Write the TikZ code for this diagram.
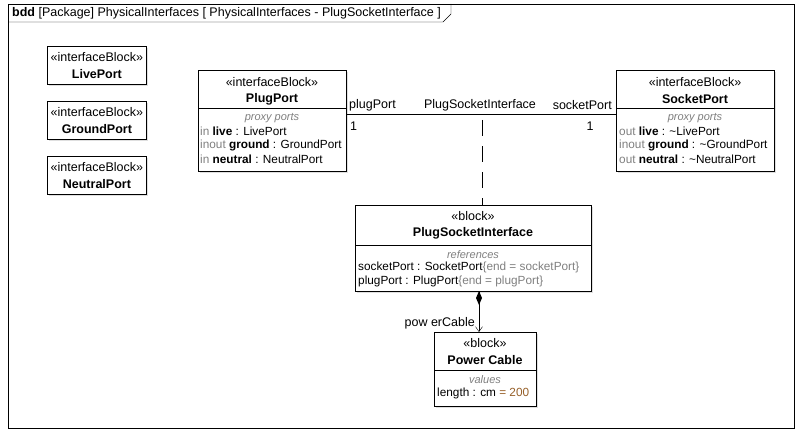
\documentclass[tikz,border=0pt]{standalone}
\usepackage{fontspec}
\setmainfont{Liberation Sans}
\usetikzlibrary{positioning,calc,arrows.meta,shadows}
\definecolor{kwgray}{RGB}{128,128,128}
\definecolor{valbrown}{RGB}{150,95,40}
\tikzset{
  blk/.style = {draw=black, fill=white, thick, inner sep=0pt,
    drop shadow={shadow xshift=2pt, shadow yshift=-2pt, fill=black!25}},
  txt/.style = {inner sep=0pt, font=\fontsize{12.5}{14}\selectfont},
  lbl/.style = {txt, anchor=west},
  row/.style = {lbl, font=\fontsize{11.8}{14}\selectfont},
  comp/.style = {txt, kwgray, font=\fontsize{11}{13}\selectfont\itshape},
  kw/.style = {kwgray}
}
\newcommand{\boxat}[5]{% name, x1, y1, x2, y2
  \node[blk, anchor=north west, minimum width=#4-#2, minimum height=#5-#3]
    (#1) at (#2,#3) {};}
\begin{document}
\begin{tikzpicture}[x=1pt,y=-1pt]
\useasboundingbox (0,0) rectangle (800,433);
% frame
\draw[thin] (8,4) rectangle (794,428);
\draw[thin] (8,22) -- (443,22) -- (451,14) -- (451,4);
\node[lbl] (title) at (12,13) {\textbf{bdd} [Package] PhysicalInterfaces [ PhysicalInterfaces - PlugSocketInterface ]};

% small interface blocks
\foreach \n/\y in {LivePort/46, GroundPort/101, NeutralPort/156} {
  \boxat{b\n}{47}{\y}{146}{\y+38}
  \node[txt] at ($(b\n.north)+(0,11)$) {«interfaceBlock»};
  \node[txt] at ($(b\n.north)+(0,28)$) {\textbf{\n}};
}

% PlugPort
\boxat{plug}{198}{70}{346}{171}
\draw[thick] (198,108) -- (346,108);
\node[txt] at (272,82) {«interfaceBlock»};
\node[txt] at (272,99) {\textbf{PlugPort}};
\node[comp] at (272,118) {proxy ports};
\node[row] at (200,131) {\textcolor{kwgray}{in} \textbf{live} : LivePort};
\node[row] at (200,145) {\textcolor{kwgray}{inout} \textbf{ground} : GroundPort};
\node[row] at (200,159) {\textcolor{kwgray}{in} \textbf{neutral} : NeutralPort};

% SocketPort
\boxat{socket}{616}{70}{774}{171}
\draw[thick] (616,108) -- (774,108);
\node[txt] at (695,82) {«interfaceBlock»};
\node[txt] at (695,99) {\textbf{SocketPort}};
\node[comp] at (695,118) {proxy ports};
\node[row] at (619,131) {\textcolor{kwgray}{out} \textbf{live} : \textasciitilde LivePort};
\node[row] at (619,145) {\textcolor{kwgray}{inout} \textbf{ground} : \textasciitilde GroundPort};
\node[row] at (619,159) {\textcolor{kwgray}{out} \textbf{neutral} : \textasciitilde NeutralPort};

% connector
\coordinate (cA) at (346,114);
\coordinate (cB) at (616,114);
\coordinate (cM) at (482,114);
\draw (cA) -- (cB);
\node[lbl] at (349,105) {plugPort};
\node[lbl] at (350,126) {1};
\node[txt] at (480,105) {PlugSocketInterface};
\node[txt, anchor=east] at (612,105) {socketPort};
\node[txt] at (590,126) {1};

% association block
\boxat{psi}{355}{205}{591}{291}
\draw[thick] (355,245) -- (591,245);
\draw[dash pattern=on 16pt off 10pt, dash phase=-6pt] (cM) -- (cM |- psi.north);
\node[txt] at (473,216) {«block»};
\node[txt] at (473,233) {\textbf{PlugSocketInterface}};
\node[comp] at (473,255) {references};
\node[row] at (358,267) {socketPort : SocketPort\textcolor{kwgray}{\{end = socketPort\}}};
\node[row] at (358,281) {plugPort : PlugPort\textcolor{kwgray}{\{end = plugPort\}}};

% Power Cable
\boxat{cable}{434}{332}{536}{406}
\draw[thick] (434,370) -- (536,370);
\node[txt] at (485,343) {«block»};
\node[txt] at (485,360) {\textbf{Power Cable}};
\node[comp] at (485,380) {values};
\node[row] at (437,393) {length : cm~\textcolor{valbrown}{= 200}};

% composition
\coordinate (pD) at (479,291);
\draw[-{Straight Barb[length=5pt,width=7pt]}] (pD) -- (pD |- cable.north);
\fill (pD) -- ++(-3,7) -- ++(3,7) -- ++(3,-7) -- cycle;
\node[txt, anchor=east] at (475,323) {pow erCable};
\end{tikzpicture}
\end{document}
